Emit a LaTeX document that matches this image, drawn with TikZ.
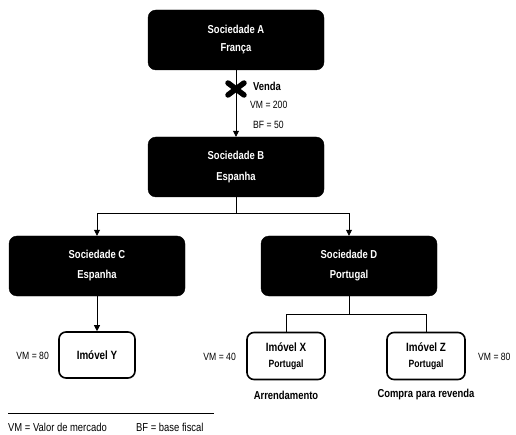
\documentclass[tikz,border=0pt]{standalone}
\usepackage{fontspec}
\setmainfont[FakeStretch=0.82]{Liberation Sans}
\usetikzlibrary{arrows.meta,calc}
\begin{document}
\begin{tikzpicture}[x=1pt,y=-1pt,
  darkbox/.style={draw=black,fill=black,rounded corners=8pt,minimum width=176pt,minimum height=60pt,text=white,font=\bfseries\fontsize{11.5}{13}\selectfont,align=center,inner sep=0pt},
  lightbox/.style={draw=black,line width=1.6pt,fill=white,rounded corners=7pt,minimum width=76pt,minimum height=46pt,font=\bfseries\fontsize{12}{13}\selectfont,align=center,inner sep=0pt},
  lbl/.style={font=\fontsize{10.5}{12}\selectfont,inner sep=0pt},
  leg/.style={font=\fontsize{11.5}{12}\selectfont,inner sep=0pt},
  blbl/.style={font=\bfseries\fontsize{11.5}{13}\selectfont,inner sep=0pt},
  conn/.style={draw=black,line width=0.8pt},
  arr/.style={conn,-{Triangle[length=6pt,width=6pt]}}]
\useasboundingbox (0,0) rectangle (516,435);
\node[darkbox] (A) at (236,40) {Sociedade A\\[5pt]França};
\node[darkbox] (B) at (236,167) {Sociedade B\\[8pt]Espanha};
\node[darkbox] (C) at (97,266) {Sociedade C\\[7pt]Espanha};
\node[darkbox] (D) at (349,266) {Sociedade D\\[7pt]Portugal};
\node[lightbox] (Y) at (97,355) {Imóvel Y};
\node[lightbox,minimum width=78pt,minimum height=47pt] (X) at (286,356) {Imóvel X\\[3pt]{\fontsize{10.5}{11}\selectfont Portugal}};
\node[lightbox,minimum width=78pt,minimum height=47pt] (Z) at (426,356) {Imóvel Z\\[3pt]{\fontsize{10.5}{11}\selectfont Portugal}};
% A to B
\draw[arr] (A.south) -- (B.north);
\coordinate (xm) at (236,89);
\draw[line width=5.5pt,line cap=round] ($(xm)+(-8,-6)$) -- ($(xm)+(8,6)$);
\draw[line width=5.5pt,line cap=round] ($(xm)+(-8,6)$) -- ($(xm)+(8,-6)$);
\node[blbl,anchor=west] (venda) at (253,86) {Venda};
\node[lbl,anchor=west] (vm200) at (250,105) {VM = 200};
\node[lbl,anchor=west] (bf50) at (253,125) {BF = 50};
% B to C, D
\coordinate (bj) at (236,213);
\draw[conn] (B.south) -- (bj);
\draw[arr] (bj) -| (C.north);
\draw[arr] (bj) -| (D.north);
% C to Y
\draw[arr] (C.south) -- (Y.north);
\node[lbl,anchor=east] (vm80a) at (49,356) {VM = 80};
% D to X, Z
\coordinate (dj) at (349,314);
\draw[conn] (D.south) -- (dj);
\draw[conn] (dj) -| (X.north);
\draw[conn] (dj) -| (Z.north);
\node[lbl,anchor=east] (vm40) at (236,357) {VM = 40};
\node[lbl,anchor=west] (vm80b) at (478,357) {VM = 80};
\node[blbl] (arrend) at (286,395) {Arrendamento};
\node[blbl] (compra) at (426,395) {Compra para revenda};
% legend
\coordinate (l1) at (8,413);
\coordinate (l2) at (214,413);
\draw[conn] (l1) -- (l2);
\node[leg,anchor=west] (leg1) at (8,427) {VM = Valor de mercado};
\node[leg,anchor=west] (leg2) at (136,427) {BF = base fiscal};
\end{tikzpicture}
\end{document}
